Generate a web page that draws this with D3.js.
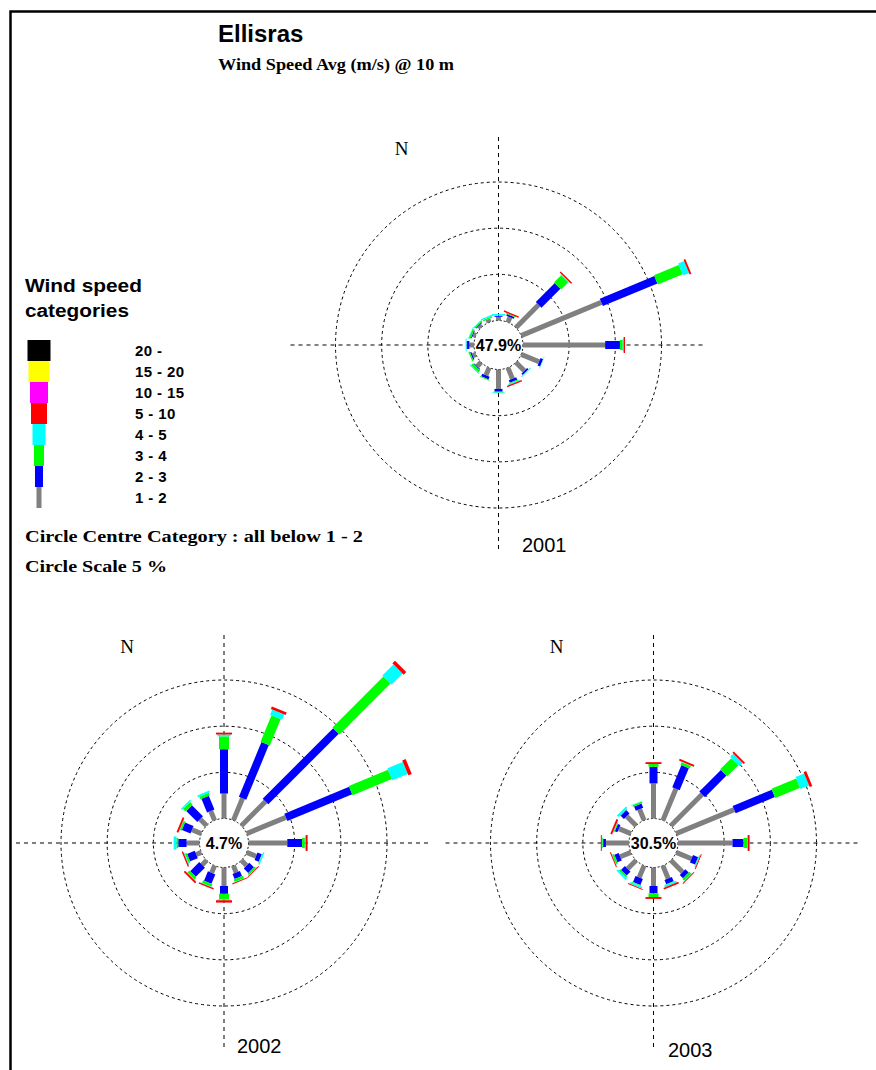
<!DOCTYPE html>
<html>
<head>
<meta charset="utf-8">
<script src="https://cdn.jsdelivr.net/npm/d3@7"></script>
<style>
  body { margin: 0; background: #fff; }
  svg { display: block; }
  .sans { font-family: "Liberation Sans", Arial, sans-serif; }
  .serif { font-family: "Liberation Serif", "Times New Roman", serif; }
</style>
</head>
<body>
<svg id="chart" width="876" height="1070"></svg>
<script>
// wind directions, clockwise from north
var directions = ["N","NNE","NE","ENE","E","ESE","SE","SSE","S","SSW","SW","WSW","W","WNW","NW","NNW"];
// speed classes (m/s) and their colours
var categories = ["1 - 2","2 - 3","3 - 4","4 - 5","5 - 10","10 - 15","15 - 20","20 -"];
var catColors = ["#808080","#0000ff","#00ff00","#00ffff","#ff0000","#ff00ff","#ffff00","#000000"];
var years = ["2001","2002","2003"];
var calmPct = [47.9, 4.7, 30.5];   // circle centre: all below 1 - 2
var ringTicks = [5, 10, 15];        // circle scale 5 %

// % of time, per direction, per speed class
var y2001_1_2  = [0.4, 0.6, 3.5, 9.4, 8.9, 2.1, 1.3, 1.3, 2.1, 0.9, 0.6, 0.35, 0.5, 0.3, 0.3, 0.35];
var y2001_2_3  = [0.1, 0.2, 2.9, 6.4, 1.6, 0.3, 0.2, 0.3, 0.3, 0.3, 0.1, 0.15, 0.3, 0.1, 0.1, 0];
var y2001_3_4  = [0.05, 0.1, 1.1, 2.9, 0.3, 0, 0, 0.1, 0.1, 0.1, 0.3, 0.15, 0, 0.2, 0.15, 0.15];
var y2001_4_5  = [0.15, 0, 0.1, 0.7, 0.1, 0.05, 0.1, 0.1, 0.05, 0, 0.1, 0, 0.1, 0.05, 0.05, 0.15];
var y2001_5_10 = [0, 0.15, 0.15, 0.2, 0.15, 0, 0, 0.15, 0, 0, 0, 0, 0, 0, 0, 0];

var y2002_1_2  = [2.7, 2.6, 3.7, 4.6, 4.2, 1.1, 0.8, 0.8, 2.0, 0.85, 0.7, 0.6, 1.4, 1.1, 1.0, 1.1];
var y2002_2_3  = [4.8, 6.4, 10.8, 7.6, 1.6, 0.5, 0.7, 0.6, 0.85, 1.1, 1.4, 0.9, 0.9, 1.0, 1.7, 1.6];
var y2002_3_4  = [1.4, 3.1, 7.8, 4.6, 0.3, 0.05, 0.2, 0.3, 0.6, 0.3, 0.3, 0.2, 0.2, 0.2, 0.4, 0.3];
var y2002_4_5  = [0.2, 0.6, 1.7, 1.8, 0.1, 0.15, 0.05, 0.05, 0.1, 0.05, 0.05, 0.1, 0.3, 0.05, 0.15, 0.2];
var y2002_5_10 = [0.2, 0.3, 0.4, 0.4, 0.2, 0, 0.1, 0.1, 0.25, 0.15, 0.2, 0.15, 0, 0.2, 0, 0];

var y2003_1_2  = [3.8, 3.7, 4.8, 6.8, 5.9, 1.8, 1.8, 1.5, 2.0, 1.4, 1.3, 1.25, 2.5, 1.4, 1.45, 1.3];
var y2003_2_3  = [1.8, 2.6, 3.3, 4.6, 1.2, 0.6, 0.5, 0.5, 0.8, 0.7, 0.6, 0.5, 0.3, 0.3, 0.5, 0.5];
var y2003_3_4  = [0.3, 0.3, 1.7, 2.9, 0.4, 0.05, 0.3, 0.05, 0.4, 0.1, 0.2, 0.2, 0.1, 0.1, 0.1, 0.2];
var y2003_4_5  = [0, 0.05, 0.5, 1.0, 0.05, 0.1, 0.05, 0.2, 0, 0.2, 0.2, 0.05, 0.05, 0.05, 0.2, 0.05];
var y2003_5_10 = [0.2, 0.2, 0.2, 0.3, 0.2, 0.1, 0.1, 0.2, 0.2, 0.1, 0, 0.1, 0.1, 0.2, 0, 0];

var stacks = [
  [y2001_1_2, y2001_2_3, y2001_3_4, y2001_4_5, y2001_5_10],
  [y2002_1_2, y2002_2_3, y2002_3_4, y2002_4_5, y2002_5_10],
  [y2003_1_2, y2003_2_3, y2003_3_4, y2003_4_5, y2003_5_10]
];

// bar thickness per speed class (wider for faster wind)
var barWidth = d3.scaleOrdinal().domain(categories).range([5, 8, 10, 13, 16, 18, 21, 23]);
var color = d3.scaleOrdinal().domain(categories).range(catColors);

var svg = d3.select("#chart");

// frame (top + left)
svg.append("path")
  .attr("d", "M10.5,1070 L10.5,11.5 L876,11.5")
  .attr("fill", "none")
  .attr("stroke", "#000")
  .attr("stroke-width", 2.5);

// titles
svg.append("text").attr("class", "sans")
  .attr("x", 218).attr("y", 42)
  .attr("font-size", 24).attr("font-weight", "bold")
  .text("Ellisras");
svg.append("text").attr("class", "serif")
  .attr("x", 218).attr("y", 70)
  .attr("font-size", 16).attr("font-weight", "bold")
  .attr("textLength", 236).attr("lengthAdjust", "spacingAndGlyphs")
  .text("Wind Speed Avg (m/s) @ 10 m");

// ---------------- legend
svg.append("text").attr("class", "sans")
  .attr("x", 25).attr("y", 292)
  .attr("font-size", 18).attr("font-weight", "bold")
  .attr("textLength", 117).attr("lengthAdjust", "spacingAndGlyphs")
  .text("Wind speed");
svg.append("text").attr("class", "sans")
  .attr("x", 25).attr("y", 317)
  .attr("font-size", 18).attr("font-weight", "bold")
  .attr("textLength", 104).attr("lengthAdjust", "spacingAndGlyphs")
  .text("categories");

var legendY = d3.scaleBand()
  .domain(categories.slice().reverse())
  .range([340, 508]);

var legend = svg.append("g");
legend.selectAll("rect")
  .data(categories)
  .enter()
  .append("rect")
  .attr("x", function(d) { return 39 - barWidth(d) / 2; })
  .attr("y", function(d) { return legendY(d); })
  .attr("width", function(d) { return barWidth(d); })
  .attr("height", legendY.bandwidth())
  .attr("fill", function(d) { return color(d); });

legend.selectAll("text")
  .data(categories)
  .enter()
  .append("text")
  .attr("class", "sans")
  .attr("x", 135)
  .attr("y", function(d) { return legendY(d) + legendY.bandwidth() / 2 + 5; })
  .attr("font-size", 15).attr("font-weight", "bold")
  .attr("letter-spacing", 0.4)
  .text(function(d) { return d; });

svg.append("text").attr("class", "serif")
  .attr("x", 25).attr("y", 542)
  .attr("font-size", 16).attr("font-weight", "bold")
  .attr("textLength", 338).attr("lengthAdjust", "spacingAndGlyphs")
  .text("Circle Centre Category :  all below 1 - 2");
svg.append("text").attr("class", "serif")
  .attr("x", 25).attr("y", 572)
  .attr("font-size", 16).attr("font-weight", "bold")
  .attr("textLength", 142).attr("lengthAdjust", "spacingAndGlyphs")
  .text("Circle Scale 5 %");

// ---------------- roses
var angle = d3.scalePoint().domain(directions).range([0, 337.5]);
var radius = d3.scaleLinear().domain([0, 15]).range([24.5, 163]);
var axisLen = 208;

function drawRose(cx, cy, yi, yearX, yearY) {
  var g = svg.append("g").attr("transform", "translate(" + cx + "," + cy + ")");

  // dashed cross
  g.append("line")
    .attr("x1", -axisLen).attr("x2", axisLen).attr("y1", 0).attr("y2", 0)
    .attr("stroke", "#000").attr("stroke-dasharray", "4,4");
  g.append("line")
    .attr("x1", 0).attr("x2", 0).attr("y1", -axisLen).attr("y2", axisLen)
    .attr("stroke", "#000").attr("stroke-dasharray", "4,4");

  // percentage rings
  g.selectAll(".ring")
    .data(ringTicks)
    .enter()
    .append("circle")
    .attr("r", function(d) { return radius(d); })
    .attr("fill", "none")
    .attr("stroke", "#000")
    .attr("stroke-dasharray", "3,3");

  // centre circle
  g.append("circle")
    .attr("r", radius(0))
    .attr("fill", "#fff")
    .attr("stroke", "#000")
    .attr("stroke-dasharray", "2,2");

  // petals: one stacked bar per direction
  directions.forEach(function(dir, i) {
    var pg = g.append("g").attr("transform", "rotate(" + angle(dir) + ")");
    var cum = 0;
    stacks[yi].forEach(function(series, k) {
      var v = series[i];
      if (!v) return;
      var cat = categories[k];
      pg.append("rect")
        .attr("x", -barWidth(cat) / 2)
        .attr("width", barWidth(cat))
        .attr("y", -radius(cum + v))
        .attr("height", radius(cum + v) - radius(cum))
        .attr("fill", color(cat));
      cum += v;
    });
  });

  g.append("text").attr("class", "sans")
    .attr("x", 0).attr("y", 6)
    .attr("text-anchor", "middle")
    .attr("font-size", 16).attr("font-weight", "bold")
    .text(calmPct[yi].toFixed(1) + "%");

  g.append("text").attr("class", "serif")
    .attr("x", -97).attr("y", -190)
    .attr("text-anchor", "middle")
    .attr("font-size", 19)
    .text("N");

  svg.append("text").attr("class", "sans")
    .attr("x", yearX).attr("y", yearY)
    .attr("font-size", 20)
    .text(years[yi]);
}

drawRose(498.5, 345, 0, 522, 552);
drawRose(224, 843, 1, 237, 1053);
drawRose(653.5, 843, 2, 668, 1057);
</script>
</body>
</html>
